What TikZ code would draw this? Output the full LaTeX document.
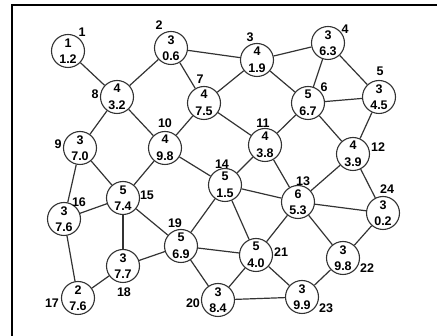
\documentclass[tikz,border=0pt]{standalone}
\usepackage{fontspec}
\setmainfont{Liberation Sans}
\usepackage{tikz}
\usetikzlibrary{positioning}

\begin{document}
\begin{tikzpicture}[x=1pt, y=-1pt,
  vtx/.style={circle, draw=black!80, line width=1.1pt, minimum size=33pt, inner sep=0pt,
    align=center, font=\fontsize{12.5}{16.5}\selectfont\bfseries},
  lbl/.style={inner sep=0pt, font=\fontsize{12.5}{15}\selectfont\bfseries},
  edge/.style={draw=black!80, line width=1.2pt}]
  \useasboundingbox (0,0) rectangle (437,336);
  % 边框
  \draw[line width=2pt] (12,336) -- (12,5) -- (437,5);
  % 顶点
  \node[vtx] (n1) at (68,51) {1\\1.2};
  \node[vtx] (n2) at (171,48) {3\\0.6};
  \node[vtx] (n3) at (257,60) {4\\1.9};
  \node[vtx] (n4) at (328,43) {3\\6.3};
  \node[vtx] (n5) at (379,97) {3\\4.5};
  \node[vtx] (n6) at (308,103) {5\\6.7};
  \node[vtx] (n7) at (204,103) {4\\7.5};
  \node[vtx] (n8) at (117,97) {4\\3.2};
  \node[vtx] (n9) at (80,148) {3\\7.0};
  \node[vtx] (n10) at (165,148) {4\\9.8};
  \node[vtx] (n11) at (265,145) {4\\3.8};
  \node[vtx] (n12) at (353,154) {4\\3.9};
  \node[vtx] (n13) at (298,202) {6\\5.3};
  \node[vtx] (n14) at (225,185) {5\\1.5};
  \node[vtx] (n15) at (123,198) {5\\7.4};
  \node[vtx] (n16) at (64,219) {3\\7.6};
  \node[vtx] (n17) at (78,298) {2\\7.6};
  \node[vtx] (n18) at (123,266) {3\\7.7};
  \node[vtx] (n19) at (181,246) {5\\6.9};
  \node[vtx] (n20) at (218,300) {3\\8.4};
  \node[vtx] (n21) at (256,255) {5\\4.0};
  \node[vtx] (n22) at (343,258) {3\\9.8};
  \node[vtx] (n23) at (302,297) {3\\9.9};
  \node[vtx] (n24) at (383,213) {3\\0.2};
  % 编号
  \node[lbl] (l1) at (82,32) {1};
  \node[lbl] (l2) at (159,25) {2};
  \node[lbl] (l3) at (250,37) {3};
  \node[lbl] (l4) at (345,29) {4};
  \node[lbl] (l5) at (380,71) {5};
  \node[lbl] (l6) at (324,87) {6};
  \node[lbl] (l7) at (200,79) {7};
  \node[lbl] (l8) at (95,94) {8};
  \node[lbl] (l9) at (58,144) {9};
  \node[lbl] (l10) at (165,123) {10};
  \node[lbl] (l11) at (263,123) {11};
  \node[lbl] (l12) at (378,147) {12};
  \node[lbl] (l13) at (303,181) {13};
  \node[lbl] (l14) at (222,164) {14};
  \node[lbl] (l15) at (147,195) {15};
  \node[lbl] (l16) at (79,202) {16};
  \node[lbl] (l17) at (52,303) {17};
  \node[lbl] (l18) at (124,292) {18};
  \node[lbl] (l19) at (175,223) {19};
  \node[lbl] (l20) at (193,303) {20};
  \node[lbl] (l21) at (281,252) {21};
  \node[lbl] (l22) at (367,268) {22};
  \node[lbl] (l23) at (326,308) {23};
  \node[lbl] (l24) at (387,189) {24};
  % 连线
  \draw[edge] (n1) -- (n8);  \draw[edge] (n2) -- (n8);  \draw[edge] (n2) -- (n3);
  \draw[edge] (n2) -- (n7);  \draw[edge] (n3) -- (n4);  \draw[edge] (n3) -- (n7);
  \draw[edge] (n3) -- (n6);  \draw[edge] (n4) -- (n6);  \draw[edge] (n4) -- (n5);
  \draw[edge] (n6) -- (n5);  \draw[edge] (n6) -- (n11); \draw[edge] (n6) -- (n12);
  \draw[edge] (n5) -- (n12); \draw[edge] (n7) -- (n10); \draw[edge] (n7) -- (n11);
  \draw[edge] (n8) -- (n9);  \draw[edge] (n8) -- (n10); \draw[edge] (n9) -- (n15);
  \draw[edge] (n9) -- (n16); \draw[edge] (n10) -- (n15); \draw[edge] (n10) -- (n14);
  \draw[edge] (n11) -- (n14); \draw[edge] (n11) -- (n13); \draw[edge] (n12) -- (n13);
  \draw[edge] (n12) -- (n24); \draw[edge] (n13) -- (n14); \draw[edge] (n13) -- (n24);
  \draw[edge] (n13) -- (n21); \draw[edge] (n13) -- (n22); \draw[edge] (n14) -- (n19);
  \draw[edge] (n14) -- (n21); \draw[edge] (n15) -- (n16); \draw[edge] (n15) -- (n18);
  \draw[edge] (n15) -- (n19); \draw[edge] (n16) -- (n17); \draw[edge] (n17) -- (n18);
  \draw[edge] (n18) -- (n19); \draw[edge] (n19) -- (n21); \draw[edge] (n19) -- (n20);
  \draw[edge] (n20) -- (n21); \draw[edge] (n20) -- (n23); \draw[edge] (n21) -- (n23);
  \draw[edge] (n22) -- (n23); \draw[edge] (n22) -- (n24);
\end{tikzpicture}
\end{document}
